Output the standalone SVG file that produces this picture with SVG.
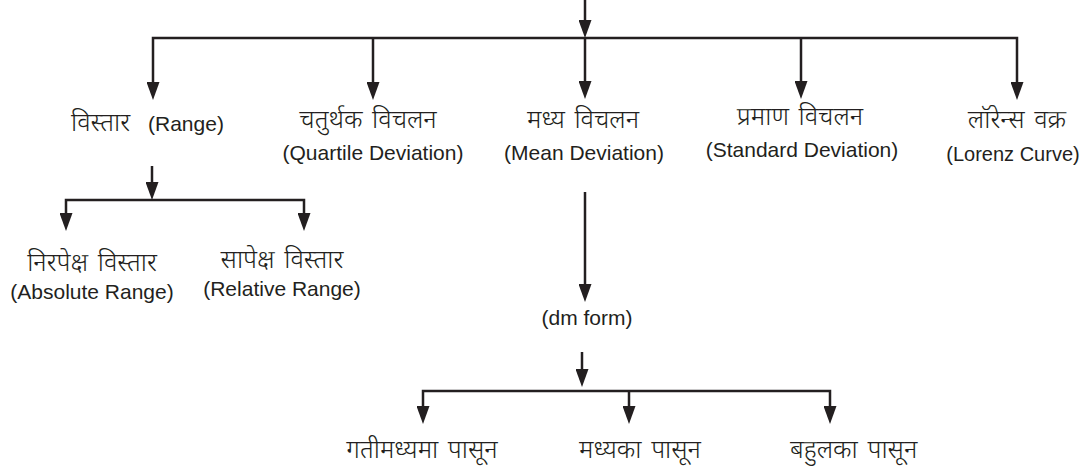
<svg xmlns="http://www.w3.org/2000/svg" width="1090" height="476" viewBox="0 0 1090 476">
<style>
.en{font-family:"Liberation Sans",Arial,sans-serif;font-size:21px;fill:#231f20;text-anchor:middle}
.dv{font-family:"Noto Sans Devanagari","Noto Sans","Lohit Devanagari",sans-serif;font-size:25.5px;font-weight:300;word-spacing:3px;fill:#231f20;text-anchor:middle}
.ln{fill:none;stroke:#231f20;stroke-width:2.5;stroke-linejoin:miter;marker-end:url(#ah)}
</style>
<defs>
<marker id="ah" viewBox="0 -6.5 18 13" refX="8" refY="0" markerWidth="18" markerHeight="13" markerUnits="userSpaceOnUse" orient="auto">
<path d="M0,-6.5 L18,0 L0,6.5 z" fill="#231f20"/>
</marker>
</defs>
<rect width="1090" height="476" fill="#ffffff"/>
<g id="connectors">
<path class="ln" d="M585,0 V28"/>
<path class="ln" d="M585,38 H153 V90"/>
<path class="ln" d="M585,38 H1017 V90"/>
<path class="ln" d="M373,38 V90"/>
<path class="ln" d="M585,38 V89"/>
<path class="ln" d="M801,38 V89"/>
<path class="ln" d="M152,166 V190"/>
<path class="ln" d="M152,200 H66 V221"/>
<path class="ln" d="M152,200 H304 V221"/>
<path class="ln" d="M585,192 V292"/>
<path class="ln" d="M582,352 V377"/>
<path class="ln" d="M582,391 H423 V414"/>
<path class="ln" d="M582,391 H830 V414"/>
<path class="ln" d="M629,391 V414"/>
</g>
<g id="node-range">
<text class="dv" x="71" y="131" style="text-anchor:start">विस्तार</text>
<text class="en" x="148" y="131" style="text-anchor:start">(Range)</text>
</g>
<g id="node-quartile">
<text class="dv" x="368" y="128">चतुर्थक विचलन</text>
<text class="en" x="373" y="160">(Quartile Deviation)</text>
</g>
<g id="node-mean">
<text class="dv" x="583" y="128">मध्य विचलन</text>
<text class="en" x="584" y="160">(Mean Deviation)</text>
</g>
<g id="node-standard">
<text class="dv" x="800" y="125">प्रमाण विचलन</text>
<text class="en" x="802" y="157">(Standard Deviation)</text>
</g>
<g id="node-lorenz">
<text class="dv" x="1017" y="128">लॉरेन्स वक्र</text>
<text class="en" x="1013" y="161" style="font-size:20px">(Lorenz Curve)</text>
</g>
<g id="node-absolute">
<text class="dv" x="92" y="271">निरपेक्ष विस्तार</text>
<text class="en" x="92" y="299">(Absolute Range)</text>
</g>
<g id="node-relative">
<text class="dv" x="282" y="268">सापेक्ष विस्तार</text>
<text class="en" x="282" y="296">(Relative Range)</text>
</g>
<g id="node-dmform">
<text class="en" x="587" y="325">(dm form)</text>
</g>
<g id="node-am">
<text class="dv" x="422" y="458">गतीमध्यमा पासून</text>
</g>
<g id="node-median">
<text class="dv" x="640" y="458">मध्यका पासून</text>
</g>
<g id="node-mode">
<text class="dv" x="790" y="458" style="text-anchor:start">बहुलका पासून</text>
</g>
</svg>
